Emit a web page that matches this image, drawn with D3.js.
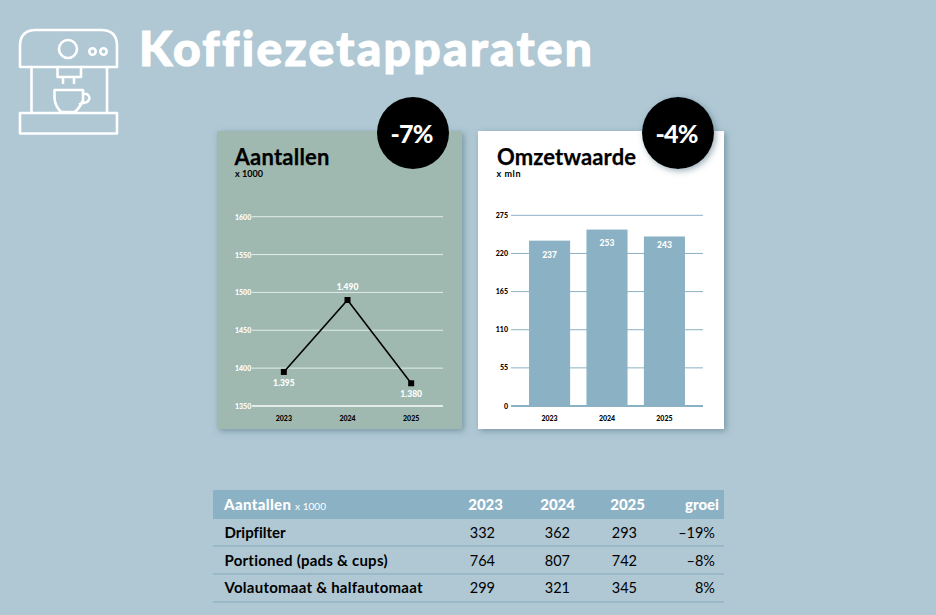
<!DOCTYPE html>
<html><head><meta charset="utf-8">
<script src="https://cdn.jsdelivr.net/npm/d3@7/dist/d3.min.js"></script>
<style>
html,body{margin:0;padding:0;background:#afc8d4;overflow:hidden}
svg{display:block}
text{font-family:Lato,"Open Sans",sans-serif;font-variant-ligatures:none;font-feature-settings:"liga" 0}
</style></head><body><svg id="c" width="936" height="615"></svg>
<script>
const years = ["2023","2024","2025"];
const aantallen = [1395,1490,1380];
const aantallenLabels = ["1.395","1.490","1.380"];
const aantallenTicks = [1350,1400,1450,1500,1550,1600];
const omzet = [237,253,243];
const omzetTicks = [0,55,110,165,220,275];
const rowNames = ["Dripfilter","Portioned (pads & cups)","Volautomaat & halfautomaat"];
const row2023 = [332,764,299];
const row2024 = [362,807,321];
const row2025 = [293,742,345];
const rowGroei = ["\u201319%","\u20138%","8%"];

// layout only
const nameWidths = [61,163,198];
const barLabelDy = [16,15,11];

const svg = d3.select("#c");
const defs = svg.append("defs");
const f = defs.append("filter").attr("id","sh").attr("x","-10%").attr("y","-10%").attr("width","125%").attr("height","125%");
f.append("feDropShadow").attr("dx",2).attr("dy",2).attr("stdDeviation",3).attr("flood-color","#4d6c7c").attr("flood-opacity",0.55);

function txt(g,x,y,s,size,weight,fill,anchor,w){
  const t=g.append("text").attr("x",x).attr("y",y).text(s).attr("font-size",size)
   .attr("font-weight",weight).attr("fill",fill).attr("text-anchor",anchor||"start");
  if(w) t.attr("textLength",w).attr("lengthAdjust","spacing");
  return t;
}

// icon
const ic = svg.append("g").attr("fill","none").attr("stroke","#fff").attr("stroke-width",2.6).attr("stroke-linejoin","round").attr("stroke-linecap","round");
ic.append("path").attr("d","M20 67 V46 Q20 30 36 30 H101 Q117 30 117 46 V67 Z");
ic.append("circle").attr("cx",68).attr("cy",49).attr("r",9);
ic.append("circle").attr("cx",92.5).attr("cy",51.5).attr("r",3.2);
ic.append("circle").attr("cx",103.5).attr("cy",51.5).attr("r",3.2);
ic.append("path").attr("d","M31.5 67 V112 M107 67 V112");
ic.append("path").attr("d","M57.5 67 V77 H81 V67 M63 78 V83 M74 78 V83");
ic.append("path").attr("d","M54.5 90 H83 V100 Q81 106 75 112 H61 Q55 106 54.5 98 Z M83 94 H87 Q92 98 87 102 L80 104");
ic.append("rect").attr("x",20).attr("y",113).attr("width",97).attr("height",20.5);

// title
txt(svg,139,66,"Koffiezetapparaten",48,900,"#fff","start",453).attr("stroke","#fff").attr("stroke-width",1.1);

// left card
svg.append("rect").attr("x",217).attr("y",131).attr("width",245).attr("height",298).attr("rx",2).attr("fill","#9fb9b1").attr("filter","url(#sh)");
txt(svg,234.5,165,"Aantallen",22,700,"#000","start",95).attr("stroke","#000").attr("stroke-width",0.25);
txt(svg,235,177,"x 1000",9,700,"#000","start",28);

const yL = d3.scaleLinear().domain([1350,1600]).range([406,216.7]);
const xL = d3.scaleBand().domain(years).range([252,443]);
const gL = svg.append("g");
gL.selectAll("line.g").data(aantallenTicks).join("line").attr("x1",252).attr("x2",443)
  .attr("y1",d=>yL(d)).attr("y2",d=>yL(d)).attr("stroke","#e3ecea").attr("stroke-width",d=>d===1350?2:1);
gL.selectAll("text.t").data(aantallenTicks).join("text").attr("class","t").attr("x",235).attr("y",d=>yL(d)+3)
  .text(d=>d).attr("font-size",7).attr("font-weight",900).attr("fill","#fff");
gL.selectAll("text.x").data(years).join("text").attr("class","x").attr("x",d=>xL(d)+xL.bandwidth()/2).attr("y",421)
  .attr("text-anchor","middle").text(d=>d).attr("font-size",7).attr("font-weight",900).attr("fill","#000");
const line = d3.line().x((d,i)=>xL(years[i])+xL.bandwidth()/2).y(d=>yL(d));
gL.append("path").attr("d",line(aantallen)).attr("fill","none").attr("stroke","#000").attr("stroke-width",1.6);
gL.selectAll("rect.m").data(aantallen).join("rect").attr("class","m")
  .attr("x",(d,i)=>xL(years[i])+xL.bandwidth()/2-3).attr("y",d=>yL(d)-3).attr("width",6).attr("height",6).attr("fill","#000");
gL.selectAll("text.l").data(aantallen).join("text").attr("class","l")
  .attr("x",(d,i)=>xL(years[i])+xL.bandwidth()/2)
  .attr("y",(d,i)=>yL(d)+(i===1?-10:14))
  .attr("text-anchor","middle").text((d,i)=>aantallenLabels[i])
  .attr("font-size",8.5).attr("font-weight",900).attr("fill","#fff");

// right card
svg.append("rect").attr("x",478).attr("y",131).attr("width",246).attr("height",298).attr("fill","#fff").attr("filter","url(#sh)");
txt(svg,497,165,"Omzetwaarde",22,700,"#000","start",139).attr("stroke","#000").attr("stroke-width",0.25);
txt(svg,496.5,177,"x mln",9,700,"#000","start",24);

const yR = d3.scaleLinear().domain([0,275]).range([406,215.3]);
const xR = d3.scaleBand().domain(years).range([521,693]).paddingInner(0.285).paddingOuter(0.14);
const gR = svg.append("g");
gR.selectAll("line.g").data(omzetTicks).join("line").attr("x1",511).attr("x2",703)
  .attr("y1",d=>yR(d)).attr("y2",d=>yR(d)).attr("stroke","#8bb1c4").attr("stroke-width",d=>d===0?2:1);
gR.selectAll("text.t").data(omzetTicks).join("text").attr("class","t").attr("x",508).attr("y",d=>yR(d)+2.5)
  .attr("text-anchor","end").text(d=>d).attr("font-size",7).attr("font-weight",900).attr("fill","#000");
gR.selectAll("rect.b").data(omzet).join("rect").attr("class","b")
  .attr("x",(d,i)=>xR(years[i])).attr("width",xR.bandwidth())
  .attr("y",d=>yR(d)-1).attr("height",d=>yR(0)-yR(d)+1).attr("fill","#8bb1c4");
gR.selectAll("text.l").data(omzet).join("text").attr("class","l")
  .attr("x",(d,i)=>xR(years[i])+xR.bandwidth()/2).attr("y",(d,i)=>yR(d)+barLabelDy[i])
  .attr("text-anchor","middle").text(d=>d).attr("font-size",8.5).attr("font-weight",900).attr("fill","#fff");
gR.selectAll("text.x").data(years).join("text").attr("class","x")
  .attr("x",d=>xR(d)+xR.bandwidth()/2).attr("y",421).attr("text-anchor","middle").text(d=>d)
  .attr("font-size",7).attr("font-weight",900).attr("fill","#000");

// badges
[[413,"-7%",false],[678,"-4%",true]].forEach(([cx,s,sh])=>{
  const c=svg.append("circle").attr("cx",cx).attr("cy",133).attr("r",36).attr("fill","#000");
  if(sh) c.attr("filter","url(#sh)");
  txt(svg,cx-1,143,s,25,900,"#fff","middle",43);
});

// table
const colX = [495,570,637];
const colHeadX = [503,575,645];
const rowY = [538,565.5,593];
const lineY = [546,574,602];
svg.append("rect").attr("x",213).attr("y",490).attr("width",511).attr("height",29).attr("fill","#8bb1c4");
txt(svg,224,510,"Aantallen",15,900,"#fff","start",67);
txt(svg,295,510,"x 1000",10,400,"#fff","start",31);
years.forEach((y,i)=>txt(svg,colHeadX[i],510,y,15,900,"#fff","end"));
txt(svg,719,510,"groei",15,900,"#fff","end");
svg.selectAll("line.r").data(lineY).join("line").attr("class","r").attr("x1",213).attr("x2",724)
  .attr("y1",d=>d).attr("y2",d=>d).attr("stroke","#85aabd").attr("stroke-width",1);
rowNames.forEach((n,i)=>{
  txt(svg,224.5,rowY[i],n,15,700,"#000","start",nameWidths[i]);
  [row2023,row2024,row2025].forEach((r,j)=>txt(svg,colX[j],rowY[i],r[i],14.5,400,"#000","end"));
  txt(svg,715,rowY[i],rowGroei[i],14.5,400,"#000","end");
});
</script></body></html>
